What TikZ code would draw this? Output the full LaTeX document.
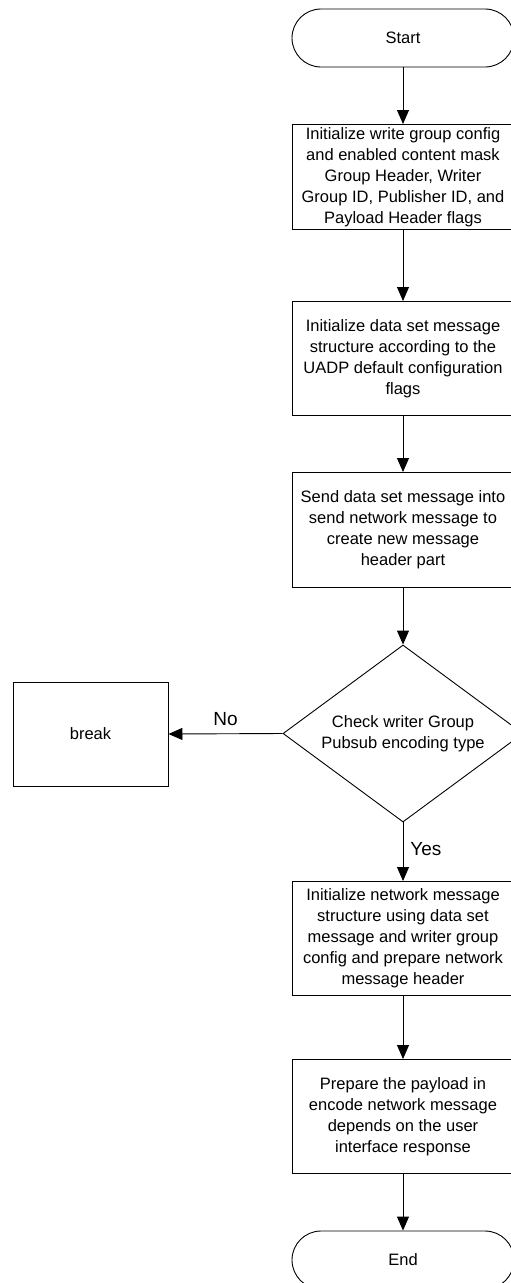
\documentclass[tikz,border=0pt]{standalone}
\usepackage{fontspec}
\setmainfont{Liberation Sans}
\usetikzlibrary{arrows.meta,shapes.geometric}
\begin{document}
\begin{tikzpicture}[x=1pt,y=-1pt,
  every node/.style={font=\fontsize{16.5}{21}\selectfont, inner sep=0pt},
  proc/.style={draw, line width=0.9pt, minimum width=222pt, align=center, anchor=north},
  term/.style={draw, line width=0.9pt, rounded corners=29pt, minimum width=222pt, minimum height=58pt},
  decide/.style={draw, line width=0.9pt, diamond, shape aspect=1.356, minimum width=240pt, minimum height=177pt, align=center},
  flow/.style={draw, line width=0.9pt, -{Triangle[length=14pt,width=12pt]}},
  lbl/.style={font=\fontsize{19}{23}\selectfont}
]
\useasboundingbox (0,0) rectangle (511,1283);
\clip (0,0) rectangle (511,1283);

% terminals and process steps
\node[term] (start) at (403,38) {Start};
\node[proc, minimum height=105pt] (init) at (403,124)
  {Initialize write group config\\and enabled content mask\\Group Header, Writer\\Group ID, Publisher ID, and\\Payload Header flags};
\node[proc, minimum height=114pt] (dsm) at (403,301)
  {Initialize data set message\\structure according to the\\UADP default configuration\\flags};
\node[proc, minimum height=115pt] (send) at (403,472)
  {Send data set message into\\send network message to\\create new message\\header part};
\node[decide] (check) at (403,733.5) {Check writer Group\\Pubsub encoding type};
\node[draw, line width=0.9pt, minimum width=155pt, minimum height=104pt] (brk) at (90.5,734) {break};
\node[proc, minimum height=114pt] (netmsg) at (403,881)
  {Initialize network message\\structure using data set\\message and writer group\\config and prepare network\\message header};
\node[proc, minimum height=114pt] (payload) at (403,1059)
  {Prepare the payload in\\encode network message\\depends on the user\\interface response};
\node[term] (end) at (403,1260) {End};

% connectors
\draw[flow] (start) -- (init);
\draw[flow] (init) -- (dsm);
\draw[flow] (dsm) -- (send);
\draw[flow] (send) -- (check.north);
\draw[flow] (check.west) -- node[lbl, above=8pt] {No} (brk.east);
\draw[flow] (check.south) -- node[lbl, right=7pt, pos=0.45] {Yes} (netmsg);
\draw[flow] (netmsg) -- (payload);
\draw[flow] (payload) -- (end);
\end{tikzpicture}
\end{document}
